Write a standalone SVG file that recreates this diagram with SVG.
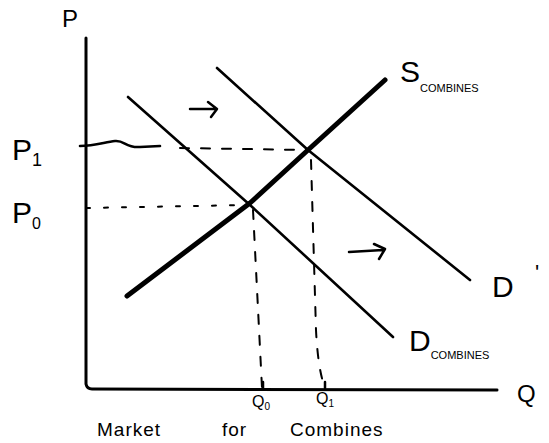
<svg xmlns="http://www.w3.org/2000/svg" width="549" height="443" viewBox="0 0 549 443">
<style>
.t{font-family:"Liberation Sans","DejaVu Sans",sans-serif;fill:#000}
.ax{fill:none;stroke:#000;stroke-width:3;stroke-linecap:round;stroke-linejoin:round}
.crv{fill:none;stroke:#000;stroke-width:2.6;stroke-linecap:round;stroke-linejoin:round}
.sup{fill:none;stroke:#000;stroke-width:5;stroke-linecap:round;stroke-linejoin:round}
.dash{fill:none;stroke:#000;stroke-width:2;stroke-dasharray:9 12;stroke-linecap:round}
.dot{fill:none;stroke:#000;stroke-width:2;stroke-dasharray:4 14;stroke-linecap:round}
.arr{fill:none;stroke:#000;stroke-width:2.5;stroke-linecap:round;stroke-linejoin:round}
</style>
<rect width="549" height="443" fill="#fff"/>
<g id="axes">
<path class="ax" d="M86 38 L86 384 Q87 389 92 389 L497 390"/>
<text class="t" x="62" y="27" font-size="24">P</text>
<text class="t" x="517" y="402" font-size="24">Q</text>
</g>
<g id="supply">
<path class="sup" d="M127 296 L250 203 L308 150 L385 80"/>
<text class="t" x="400" y="82" font-size="30">S<tspan font-size="11" dy="10">COMBINES</tspan></text>
</g>
<g id="demand">
<path class="crv" d="M128 97 L250 205 L393 337"/>
<text class="t" x="409" y="351" font-size="30">D<tspan font-size="11" dy="8">COMBINES</tspan></text>
</g>
<g id="demand-prime">
<path class="crv" d="M217 68 L308 150 L470 280"/>
<text class="t" x="492" y="297" font-size="30">D</text>
<text class="t" x="535" y="280" font-size="22">'</text>
</g>
<g id="connectors">
<path class="crv" stroke-width="2" d="M80 146 C95 146 105 142 115 141 C125 140 125 148 140 147 L160 146"/>
<path class="dash" d="M180 148 L308 150"/>
<path class="dot" d="M86 208 L248 205"/>
<path class="dash" d="M253 210 L262 388"/>
<path class="dash" d="M311 160 L316 330 Q318 370 325 388"/>
<path class="arr" d="M263 388 L263 382 M325 388 L325 382"/>
<path class="arr" d="M190 109 L216 109 M208 102 L217 109 L211 117"/>
<path class="arr" d="M349 252 L383 250 M374 244 L385 249 L379 259"/>
</g>
<g id="labels">
<text class="t" x="12" y="160" font-size="30">P<tspan font-size="18" dy="6">1</tspan></text>
<text class="t" x="12" y="223" font-size="30">P<tspan font-size="16" dy="6">0</tspan></text>
<text class="t" x="252" y="407" font-size="16">Q<tspan font-size="10" dy="3">0</tspan></text>
<text class="t" x="316" y="404" font-size="16">Q<tspan font-size="10" dy="3">1</tspan></text>
<text class="t" x="97" y="436" font-size="19" letter-spacing="1">Market</text>
<text class="t" x="222" y="436" font-size="19" letter-spacing="1">for</text>
<text class="t" x="290" y="436" font-size="19" letter-spacing="1">Combines</text>
</g>
</svg>
